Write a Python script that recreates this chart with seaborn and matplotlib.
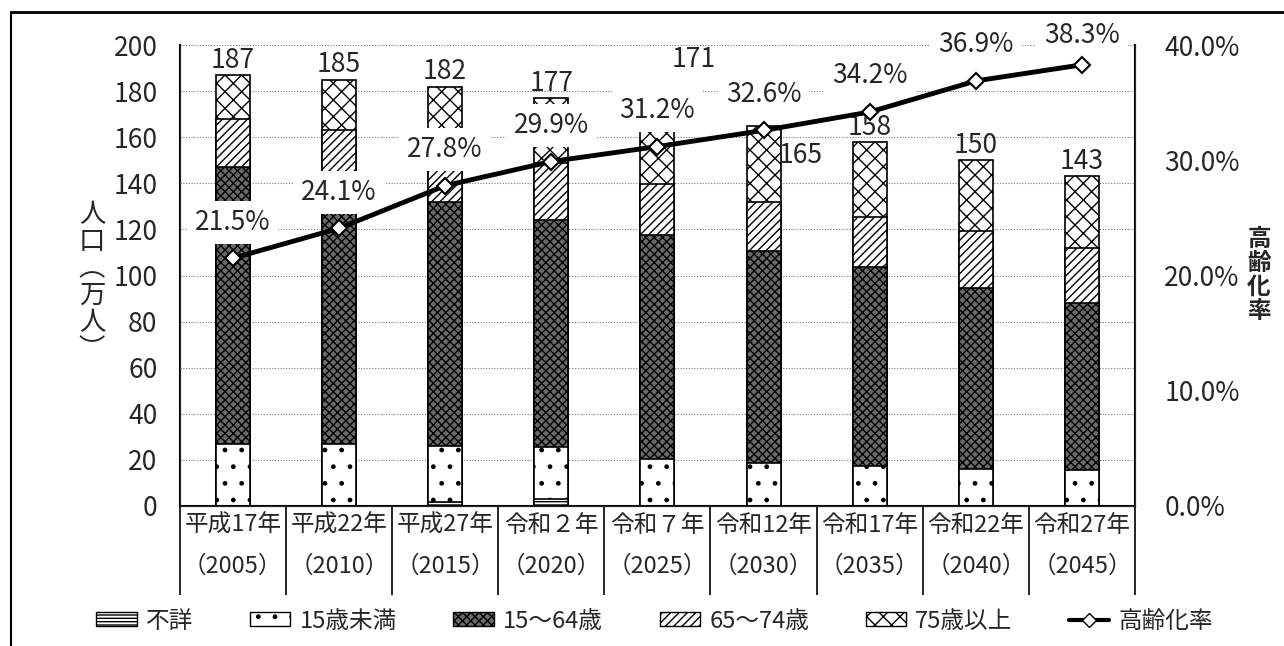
import numpy as np
import pandas as pd
import matplotlib
matplotlib.use('Agg')
import matplotlib.pyplot as plt
import seaborn as sns
from matplotlib.patches import Patch
from matplotlib.lines import Line2D

years = ['平成17年\n（2005）', '平成22年\n（2010）', '平成27年\n（2015）', '令和２年\n（2020）',
         '令和７年\n（2025）', '令和12年\n（2030）', '令和17年\n（2035）', '令和22年\n（2040）',
         '令和27年\n（2045）']
fusho = [0, 0, 1.5, 3, 0, 0, 0, 0, 0]
under15 = [27, 27, 24.5, 22.5, 20.4, 18.7, 17.4, 16, 15.5]
age15_64 = [120, 113.4, 106, 98.5, 97.2, 91.9, 86.3, 78.6, 72.7]
age65_74 = [21, 23, 24, 25, 22, 21.4, 21.7, 24.7, 23.8]
age75 = [19, 21.6, 26, 28, 31.4, 33, 32.6, 30.7, 31]
totals = [187, 185, 182, 177, 171, 165, 158, 150, 143]
rate = [21.5, 24.1, 27.8, 29.9, 31.2, 32.6, 34.2, 36.9, 38.3]

sns.set_style('white')
plt.rcParams['font.family'] = ['Noto Sans CJK JP', 'DejaVu Sans']
plt.rcParams['hatch.linewidth'] = 1.0
numsize = 19

df = pd.DataFrame({'year': years, 'fusho': fusho, 'u15': under15, 'a15': age15_64,
                   'a65': age65_74, 'a75': age75, 'rate': rate})
# cumulative heights, drawn from the top layer down so lower layers cover
df['c0'] = df['fusho']
df['c1'] = df['c0'] + df['u15']
df['c2'] = df['c1'] + df['a15']
df['c3'] = df['c2'] + df['a65']
df['c4'] = df['c3'] + df['a75']

layers = [('c4', 'white', 'xx', '75歳以上'),
          ('c3', 'white', '////', '65～74歳'),
          ('c2', '#6a6a6a', 'xxxx', '15～64歳'),
          ('c1', 'white', '.', '15歳未満'),
          ('c0', 'white', '-----', '不詳')]

fig, ax = plt.subplots(figsize=(12.84, 6.46), dpi=100)
fig.subplots_adjust(left=0.140, right=0.884, bottom=0.217, top=0.930)

for col, fc, hatch, name in layers:
    sns.barplot(data=df, x='year', y=col, color=fc, saturation=1, width=0.32,
                edgecolor='black', linewidth=1.2, hatch=hatch, ax=ax, zorder=2)

ax.set_ylim(0, 200)
ax.set_xlim(-0.5, 8.5)
ax.set_yticks(range(0, 201, 20))
ax.set_yticklabels([str(v) for v in range(0, 201, 20)], fontsize=numsize)
ax.set_xticks(range(9))
ax.set_xticklabels(years, fontsize=17, linespacing=2.0)
ax.tick_params(axis='x', length=0, pad=6)
ax.tick_params(axis='y', length=0, pad=16)
ax.set_xlabel('')
ax.set_ylabel('')
for g in range(20, 201, 20):
    ax.axhline(g, color='#777777', linestyle=(0, (1, 1.5)), linewidth=0.8, zorder=1)
ax.spines['top'].set_visible(False)
for s in ['left', 'right', 'bottom']:
    ax.spines[s].set_color('black')
    ax.spines[s].set_linewidth(1.5)

# table-like separators under the axis
ax.vlines(np.arange(-0.5, 9.0, 1.0), -0.193, 0, transform=ax.get_xaxis_transform(),
          colors='black', linewidth=1.2, clip_on=False)

lab_box = dict(boxstyle='square,pad=0.3', fc='white', ec='none')
offsets = {4: (26, 28), 5: (27, -31)}
for i, t in enumerate(totals):
    dx, dy = offsets.get(i, (0, 1))
    ax.annotate(str(t), (i, t), xytext=(dx, dy), textcoords='offset points',
                ha='center', va='bottom', fontsize=numsize, zorder=4)

ax2 = ax.twinx()
sns.lineplot(x=np.arange(9), y=rate, ax=ax2, color='black', linewidth=3.5, marker='D',
             markersize=8, markerfacecolor='white', markeredgecolor='black',
             markeredgewidth=1.5, zorder=5)
ax2.set_ylim(0, 40)
ax2.set_yticks(range(0, 41, 10))
ax2.set_yticklabels(['%.1f%%' % v for v in range(0, 41, 10)], fontsize=numsize)
ax2.tick_params(axis='y', length=0, pad=21)
ax2.spines['top'].set_visible(False)
for i, r in enumerate(rate):
    dy = 26 if i < 8 else 21
    ax2.annotate('%.1f%%' % r, (i, r), xytext=(0, dy), textcoords='offset points',
                 ha='center', va='center', fontsize=numsize, bbox=lab_box, zorder=3)

fig.text(92 / 1284, 1 - 282 / 646, '\n'.join('人口︵万人︶'), ha='center', va='center',
         fontsize=19, linespacing=1.0)
fig.text(1259 / 1284, 1 - 275 / 646, '\n'.join('高齢化率'), ha='center', va='center',
         fontsize=17, linespacing=1.0, fontweight='bold')

handles = [Patch(facecolor='white', edgecolor='black', hatch='-----'),
           Patch(facecolor='white', edgecolor='black', hatch='.'),
           Patch(facecolor='#6a6a6a', edgecolor='black', hatch='xxxx'),
           Patch(facecolor='white', edgecolor='black', hatch='////'),
           Patch(facecolor='white', edgecolor='black', hatch='xx'),
           Line2D([], [], color='black', linewidth=3, marker='D', markersize=7,
                  markerfacecolor='white', markeredgecolor='black')]
names = ['不詳', '15歳未満', '15～64歳', '65～74歳', '75歳以上', '高齢化率']
fig.legend(handles, names, loc='center', bbox_to_anchor=(0.51, 1 - 621 / 646), ncol=6,
           frameon=False, fontsize=17, handlelength=1.7, handleheight=0.55,
           handletextpad=0.4, columnspacing=2.4)

fig.add_artist(Line2D([11 / 1284, 11 / 1284], [0, 1 - 12 / 646], color='black', linewidth=1.5))
fig.add_artist(Line2D([11 / 1284, 1], [1 - 12 / 646, 1 - 12 / 646], color='black', linewidth=2))

fig.savefig('out.png', dpi=100)
